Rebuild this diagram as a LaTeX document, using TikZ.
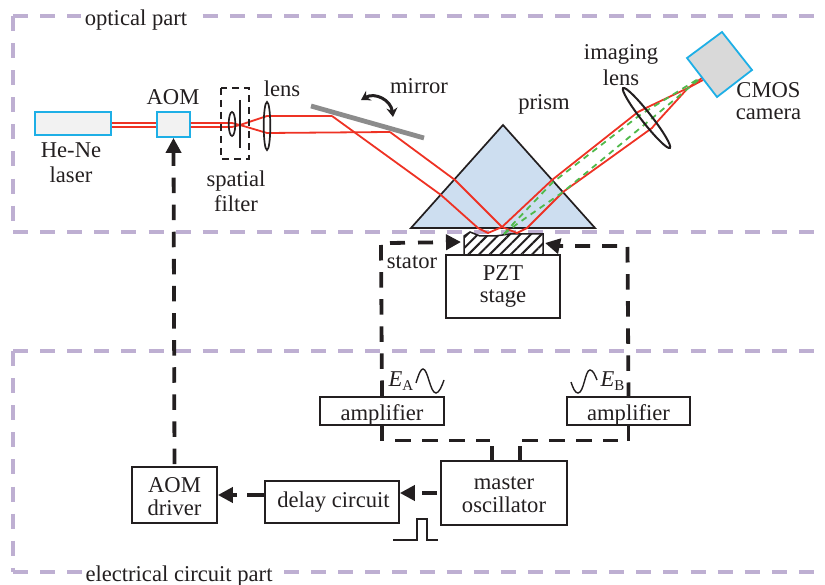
\documentclass[tikz,border=0pt]{standalone}
\usepackage{fontspec}
\setmainfont{Liberation Serif}
\usepackage{xcolor}
\usetikzlibrary{arrows.meta,patterns.meta}
\definecolor{framelila}{RGB}{190,175,210}
\definecolor{beamred}{RGB}{238,50,36}
\definecolor{beamgreen}{RGB}{80,185,75}
\definecolor{partcyan}{RGB}{30,175,230}
\definecolor{prismblue}{RGB}{205,222,240}
\definecolor{inkblack}{RGB}{35,31,32}
\newcommand{\subtext}[1]{\raisebox{-3.5pt}{\fontsize{15}{15}\selectfont #1}}
\tikzset{
    frameline/.style={draw=framelila,line width=3.5pt,dash pattern=on 15pt off 12.1pt},
    framelabel/.style={fill=white,text=inkblack,inner sep=4pt},
    label/.style={text=inkblack,align=center,inner sep=0pt},
    box/.style={draw=inkblack,line width=1.7pt,fill=white,text=inkblack,align=center,inner sep=0pt},
    optbox/.style={draw=partcyan,line width=1.8pt,fill=black!5,inner sep=0pt},
    redbeam/.style={draw=beamred,line width=1.8pt},
    greenbeam/.style={draw=beamgreen,line width=1.8pt,dash pattern=on 6pt off 5pt},
    ctrl/.style={draw=inkblack,line width=3.8pt,dash pattern=on 15.5pt off 11.6pt},
    ctrltip/.style={-{Triangle[length=15pt,width=15pt]}}
}
\begin{document}
\begin{tikzpicture}[x=1pt,y=-1pt,font=\fontsize{22.6}{24}\selectfont]
    \useasboundingbox (0,0) rectangle (825,585);
    % frames of the two parts
    \draw[frameline] (13,16) -- (825,16);
    \draw[frameline] (13,16) -- (13,232);
    \draw[frameline] (13,232) -- (825,232);
    \draw[frameline] (13,351) -- (825,351);
    \draw[frameline] (13,351) -- (13,572);
    \draw[frameline] (13,572) -- (825,572);
    \node[framelabel] (opticlabel) at (136,20) {optical part};
    \node[framelabel] (eleclabel) at (179,576) {electrical circuit part};

    % light source side
    \node[optbox,minimum width=76pt,minimum height=23pt] (laser) at (73,123.5) {};
    \node[optbox,minimum width=33pt,minimum height=25pt] (aom) at (173.5,124.5) {};
    \node[label] (laserlabel) at (71,163) {He-Ne\\[1pt]laser};
    \node[label] (aomlabel) at (173,97) {AOM};
    \node[label] (lenslabel) at (282,89) {lens};
    \node[label] (filterlabel) at (236,191) {spatial\\[1pt]filter};
    \coordinate (focus) at (240,125);
    \coordinate (lensup) at (267,116);
    \coordinate (lensdown) at (267,133);
    \coordinate (hitA) at (332,116);
    \coordinate (hitB) at (390,132);
    \draw[redbeam] (laser.east |- 0,123) -- (aom.west |- 0,123);
    \draw[redbeam] (laser.east |- 0,127) -- (aom.west |- 0,127);
    \draw[redbeam] (aom.east |- 0,123) -- (232,123) -- (focus);
    \draw[redbeam] (aom.east |- 0,127) -- (232,127) -- (focus);
    \draw[redbeam] (focus) -- (lensup) -- (hitA);
    \draw[redbeam] (focus) -- (lensdown) -- (hitB);
    \draw[draw=inkblack,line width=1.4pt,dash pattern=on 7pt off 5pt] (221,88) rectangle (249,159);
    \draw[draw=inkblack,line width=1.7pt] (232,124) ellipse (3.3pt and 12pt);
    \draw[draw=inkblack,line width=1.7pt] (240,100) -- (240,148);
    \draw[draw=inkblack,line width=1.7pt] (267,126) ellipse (3.3pt and 24pt);

    % mirror
    \draw[draw=black!45,line width=4.8pt] (311,106) -- (424,138);
    \draw[draw=inkblack,line width=3pt,{Stealth[length=9pt,width=11pt]}-{Stealth[length=9pt,width=11pt]}] (361,100) .. controls (375,92) and (391,100) .. (393,117);
    \node[label] (mirrorlabel) at (419,86) {mirror};

    % prism and sample
    \draw[draw=inkblack,line width=1.7pt,fill=prismblue,line join=miter] (503,125) -- (595,228) -- (411,228) -- cycle;
    \node[label] (prismlabel) at (544,104) {prism};
    \draw[draw=inkblack,line width=1.5pt,preaction={fill=white},pattern={Lines[angle=45,distance=7.5pt,line width=2pt]},pattern color=inkblack]
        (464,256) -- (464,236) -- (470,232) -- (480,236) -- (495,236) -- (510,234) -- (525,234) -- (543,234) -- (543,256) -- cycle;
    \node[box,minimum width=114pt,minimum height=63pt] (stage) at (503,286.5) {PZT\\[-2pt]stage};

    % reflected beams
    \draw[redbeam] (hitA) -- (441,195) -- (478,228) -- (488,233) -- (502,227) -- (552,180) -- (638,112) -- (648,107) -- (688,88) -- (703,80);
    \draw[redbeam] (hitB) -- (455,180) -- (502,227) -- (517,233) -- (527,228) -- (563,192) -- (652,128) -- (657,122) -- (688,88) -- (702,78);
    \draw[greenbeam] (504,234) -- (513,224) -- (552,183) -- (640,115) -- (703,76);
    \draw[greenbeam] (504,234) -- (517,224) -- (563,192) -- (650,120) -- (703,76);

    % imaging lens and camera
    \draw[draw=inkblack,line width=2pt,rotate around={38:(646.5,118)}] (646.5,118) ellipse (5pt and 38pt);
    \node[label] (imaginglabel) at (621,65) {imaging\\[2pt]lens};
    \draw[draw=partcyan,line width=1.8pt,fill=black!15] (722,32) -- (752,70) -- (717,97) -- (687,58) -- cycle;
    \node[label] (cmoslabel) at (768.5,101) {CMOS\\[-2.5pt]camera};

    % circuit boxes
    \node[box,minimum width=124pt,minimum height=28pt,text height=21pt,text depth=2pt] (ampA) at (382,411) {amplifier};
    \node[box,minimum width=123pt,minimum height=28pt,text height=21pt,text depth=2pt] (ampB) at (628.5,411) {amplifier};
    \node[box,minimum width=126pt,minimum height=64pt] (master) at (504,493) {\rule{0pt}{17pt}master\\[-1pt]oscillator};
    \node[box,minimum width=134pt,minimum height=42pt] (delay) at (332,502) {\hspace*{3pt}delay circuit};
    \node[box,minimum width=85pt,minimum height=56pt] (driver) at (174.5,495) {\rule{0pt}{19pt}AOM\\[-1pt]driver};
    \node[label] (stator) at (412,262) {stator};
    \node[label] (labelA) at (401,381) {\textit{E}\subtext{A}};
    \node[label] (labelB) at (612.5,381) {\textit{E}\subtext{B}};

    % wave forms
    \draw[draw=inkblack,line width=1.4pt] (416,383) .. controls (419,373) and (421,369) .. (423,369) .. controls (428,369) and (430,393) .. (436,393) .. controls (439,393) and (442,386) .. (444,380);
    \draw[draw=inkblack,line width=1.4pt] (571,382) .. controls (573,388) and (575,393) .. (578,393) .. controls (584,393) and (585,370) .. (590,370) .. controls (593,370) and (595,375) .. (597,380);
    \draw[draw=inkblack,line width=1.4pt] (393,540) -- (417,540) -- (417,519) -- (427,519) -- (427,540) -- (438,540);

    % control lines
    \coordinate (statorL) at (381,245);
    \coordinate (statorR) at (627.5,247);
    \coordinate (armL) at (390,243);
    \coordinate (armR) at (617,246);
    \coordinate (tipL) at (461,242);
    \coordinate (tipR) at (545,243);
    \coordinate (busL) at (395,440.5);
    \coordinate (busR) at (618,440.5);
    \draw[ctrl] (statorL) -- (ampA.north);
    \draw[ctrl] (statorR) -- (ampB.north);
    \draw[ctrl,ctrltip,dash pattern=on 15pt off 13pt] (armL) -- (tipL);
    \draw[ctrl,ctrltip,dash pattern=on 15pt off 12pt] (armR) -- (559,246) -- (tipR);
    \draw[ctrl] (ampA.south) -- (ampA.south |- busL);
    \draw[ctrl] (ampB.south) -- (ampB.south |- busR);
    \draw[ctrl] (busL) -- (490,440.5);
    \draw[ctrl] (522,440.5) -- (busR);
    \draw[ctrl,solid] (492,446) -- ([xshift=-12pt]master.north);
    \draw[ctrl,solid] (520,446) -- ([xshift=16pt]master.north);
    \draw[ctrl,ctrltip] ([xshift=-3pt]master.west |- 0,493) -- (delay.east |- 0,493);
    \draw[ctrl,ctrltip,dash pattern=on 17pt off 10pt] (delay.west |- 0,495) -- (driver.east |- 0,495);
    \draw[ctrl,ctrltip,dash phase=25pt] (driver.north) -- (aom.south);
\end{tikzpicture}
\end{document}
